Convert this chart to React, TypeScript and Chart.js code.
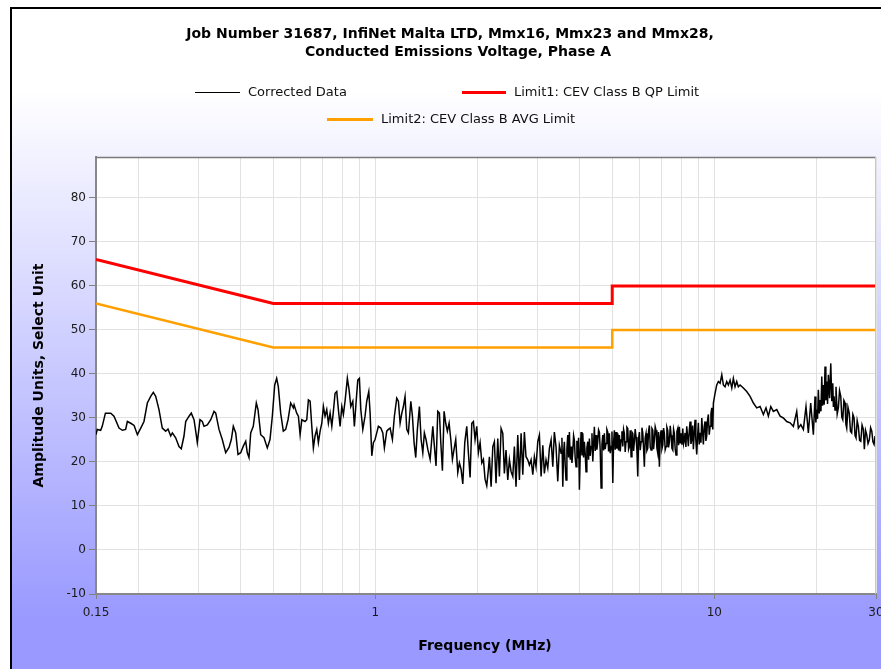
import { useEffect, useRef } from 'react';
import { Chart, registerables } from 'chart.js';

Chart.register(...registerables);

// ---------- data ----------
const titleLines = [
  'Job Number 31687, InfiNet Malta LTD, Mmx16, Mmx23 and Mmx28,',
  'Conducted Emissions Voltage, Phase A',
];
const xAxisTitle = 'Frequency (MHz)';
const yAxisTitle = 'Amplitude Units, Select Unit';

const seriesLabels = [
  'Corrected Data',
  'Limit1: CEV Class B QP Limit',
  'Limit2: CEV Class B AVG Limit',
];

const xGridValues = [0.15, 0.2, 0.3, 0.4, 0.5, 0.6, 0.7, 0.8, 0.9, 1, 2, 3, 4, 5, 6, 7, 8, 9, 10, 20, 30];
const xLabeledTicks = [0.15, 1, 10, 30];
const yTickValues = [-10, 0, 10, 20, 30, 40, 50, 60, 70, 80];

const limitFreq = [0.15, 0.5, 5, 5, 30];
const qpLimit = [66, 56, 56, 60, 60];
const avgLimit = [56, 46, 46, 50, 50];

// Corrected data, 0.15 - 2.16 MHz
const freqLow = [
  0.150, 0.1513, 0.1548, 0.1565, 0.1599, 0.1658, 0.1695, 0.1754, 0.1794, 0.1835,
  0.1856, 0.1899, 0.1943, 0.1987, 0.2033, 0.2078, 0.2126, 0.2175, 0.2214, 0.2250,
  0.2301, 0.2353, 0.2408, 0.2446, 0.2492, 0.2520, 0.2577, 0.2636, 0.2677, 0.2727,
  0.2759, 0.2822, 0.2865, 0.2919, 0.2953, 0.2985, 0.3040, 0.3088, 0.3124, 0.3195,
  0.3270, 0.3344, 0.3383, 0.3459, 0.3537, 0.3620, 0.3702, 0.3761, 0.3812, 0.3875,
  0.3936, 0.4008, 0.4080, 0.4147, 0.4192, 0.4241, 0.4290, 0.4366, 0.4457, 0.4509,
  0.4592, 0.4696, 0.4802, 0.4891, 0.4969, 0.5050, 0.5118, 0.5175, 0.5259, 0.5354,
  0.5441, 0.5528, 0.5629, 0.5731,
  0.5760, 0.5864, 0.5931, 0.6001, 0.6071, 0.6206, 0.6278, 0.6348, 0.6423, 0.6497,
  0.6567, 0.6642, 0.6719, 0.6794, 0.6874, 0.6954, 0.7029, 0.7109, 0.7191, 0.7272,
  0.7357, 0.7443, 0.7523, 0.7609, 0.7697, 0.7783, 0.7874, 0.7966, 0.8052, 0.8143,
  0.8272, 0.8370, 0.8468, 0.8583, 0.8676, 0.8774, 0.8879, 0.8977, 0.9064, 0.9187,
  0.9328, 0.9436, 0.9568, 0.9654, 0.9766, 0.9872, 0.9984, 1.0099, 1.0213, 1.0383,
  1.0524, 1.0637, 1.0810, 1.0931, 1.1060, 1.1233, 1.1385, 1.1570, 1.1699, 1.1837,
  1.1975, 1.2104, 1.2241, 1.2383, 1.2522, 1.2730, 1.2870, 1.3015, 1.3162, 1.3309,
  1.3494, 1.3652, 1.3809, 1.3957, 1.4115, 1.4284, 1.4512, 1.4780, 1.4938, 1.5107,
  1.5288, 1.5458, 1.5606, 1.5776, 1.5957, 1.6137, 1.6317, 1.6510, 1.6702, 1.6885,
  1.7078, 1.7271, 1.7512, 1.7707, 1.7913, 1.8120, 1.8364, 1.8613, 1.8821, 1.9041,
  1.9264, 1.9473, 1.9693, 1.9920, 2.0143, 2.0381, 2.0618, 2.0846, 2.1078, 2.1321,
  2.1560,
];
const ampLow = [
  26.2, 27.4, 27.2, 28.1, 31.1, 31.1, 30.4, 27.7, 27.2, 27.4,
  29.2, 28.8, 28.3, 26.2, 27.7, 29.2, 33.4, 34.9, 35.8, 34.9,
  31.9, 27.7, 27.0, 27.5, 25.9, 26.6, 25.5, 23.5, 23.0, 25.9,
  29.2, 30.4, 31.1, 29.6, 27.0, 24.4, 29.6, 29.2, 28.1, 28.4,
  29.6, 31.5, 31.1, 27.4, 25.1, 22.1, 23.3, 25.1, 28.1, 26.6,
  21.7, 22.1, 23.6, 24.7, 22.1, 21.0, 26.6, 28.1, 33.4, 31.9,
  26.2, 25.5, 23.2, 25.1, 30.4, 37.5, 39.0, 37.1, 31.1, 27.0,
  27.4, 29.6, 33.4, 32.3,
  33.0, 31.1, 30.4, 26.2, 29.6, 29.2, 29.6, 34.1, 33.8, 28.1,
  23.2, 25.9, 27.4, 24.4, 27.0, 28.8, 32.6, 30.4, 31.9, 28.8,
  31.1, 28.1, 31.5, 35.6, 36.0, 31.9, 28.1, 32.6, 30.8, 33.8,
  39.0, 36.4, 32.6, 33.8, 28.1, 33.4, 38.6, 39.0, 31.9, 27.4,
  30.4, 33.8, 36.0, 31.1, 21.4, 24.4, 25.1, 26.6, 28.1, 27.7,
  26.6, 23.2, 27.0, 27.4, 27.7, 25.1, 30.4, 34.5, 33.8, 28.8,
  31.1, 32.6, 34.9, 27.4, 26.6, 33.8, 30.4, 24.4, 21.0, 27.4,
  32.6, 25.1, 22.1, 26.6, 25.1, 22.9, 20.6, 28.1, 23.6, 19.1,
  31.5, 31.1, 24.4, 18.0, 31.5, 28.8, 27.0, 28.8, 25.1, 20.6,
  22.9, 25.1, 17.6, 19.8, 18.3, 15.0, 24.4, 28.1, 22.1, 16.5,
  28.8, 29.2, 25.1, 28.1, 22.1, 24.4, 19.8, 20.6, 16.1, 14.6,
  18.3,
];

// Corrected data, 2.17 - 4.45 MHz
const freqMid = [
  2.1709, 2.1963, 2.2216, 2.2455, 2.2708, 2.2979, 2.3235, 2.3506, 2.3777, 2.4033,
  2.4304, 2.4594, 2.4868, 2.5158, 2.5448, 2.5722, 2.6012, 2.6323, 2.6615, 2.6926,
  2.7237, 2.7529, 2.7840, 2.8173, 2.8486, 2.8819, 2.9152, 2.9465, 2.9797, 3.0153,
  3.0488, 3.0844, 3.1200, 3.1535, 3.1891, 3.2272, 3.2631, 3.3012, 3.3393, 3.3751,
  3.4132, 3.4540, 3.4924, 3.5332, 3.553, 3.5740, 3.593, 3.6123, 3.632, 3.6531,
  3.675, 3.6968, 3.717, 3.7378, 3.760, 3.7815, 3.803, 3.8252, 3.846, 3.8662,
  3.888, 3.9099, 3.933, 3.9566, 3.979, 4.0006, 4.024, 4.0473, 4.071, 4.0940,
  4.116, 4.1380, 4.161, 4.1847, 4.209, 4.2347, 4.258, 4.2817, 4.307, 4.3317,
  4.357, 4.3817, 4.405, 4.4288, 4.454,
];
const ampMid = [
  21.2, 14.4, 23.5, 24.6, 15.2, 25.3, 16.7, 27.6, 26.5, 17.4,
  22.7, 15.9, 20.5, 17.8, 16.7, 23.5, 14.4, 26.1, 15.9, 26.5,
  17.1, 26.8, 21.2, 20.5, 19.3, 20.5, 17.1, 21.2, 18.9, 24.6,
  26.1, 16.7, 23.8, 17.4, 20.5, 18.6, 23.1, 25.0, 18.9, 26.8,
  23.5, 15.6, 23.8, 22.0, 25.5, 14.4, 22.0, 24.6, 19.5, 15.9,
  23.0, 26.1, 21.0, 26.8, 20.5, 23.5, 19.8, 22.3, 26.0, 25.0,
  20.9, 18.9, 24.8, 20.8, 25.5, 13.7, 22.0, 26.8, 21.5, 26.5,
  21.0, 24.6, 22.0, 17.8, 23.2, 24.6, 20.5, 25.3, 21.4, 23.5,
  26.5, 20.1, 24.0, 28.0, 22.5,
];

// Corrected data, 4.48 - 9.94 MHz
const freqHigh = [
  4.4788, 4.505, 4.5323, 4.557, 4.5827, 4.609, 4.6362, 4.663, 4.6897, 4.715,
  4.7401, 4.767, 4.7936, 4.822, 4.8509, 4.878, 4.9048, 4.933, 4.9621, 4.991,
  5.0194, 5.046, 5.0732, 5.102, 5.1305, 5.161, 5.1918, 5.220, 5.2495, 5.280,
  5.3108, 5.341, 5.3721, 5.401, 5.4298, 5.460, 5.4911, 5.524, 5.5567, 5.588,
  5.6184, 5.651, 5.6841, 5.717, 5.7497, 5.781, 5.8114, 5.844, 5.8770, 5.912,
  5.9472, 5.980, 6.0133, 6.048, 6.0835, 6.119, 6.1537, 6.187, 6.2198, 6.255,
  6.2900, 6.328, 6.3652, 6.401, 6.4359, 6.473, 6.5111, 6.549, 6.5862, 6.622,
  6.6570, 6.695, 6.7321, 6.772, 6.8125, 6.850, 6.8882, 6.929, 6.9687, 7.009,
  7.0491, 7.087, 7.1248, 7.165, 7.2052, 7.248, 7.2913, 7.332, 7.3723, 7.415,
  7.4584, 7.501, 7.5445, 7.585, 7.6255, 7.669, 7.7116, 7.758, 7.8037, 7.847,
  7.8905, 7.936, 7.9826, 8.028, 8.0748, 8.118, 8.1615,
  8.1994, 8.247, 8.2942, 8.340, 8.3870, 8.436, 8.4857, 8.535, 8.5843, 8.631,
  8.6771, 8.726, 8.7757, 8.826, 8.8772, 8.927, 8.9765, 9.029, 9.0820, 9.135,
  9.1876, 9.237, 9.2869, 9.340, 9.3924, 9.447, 9.5010, 9.554, 9.6073, 9.664,
  9.7204, 9.777, 9.8334, 9.867, 9.9000, 9.9396,
];
const ampHigh = [
  26.1, 22.8, 24.6, 27.3, 26.8, 22.5, 14.1, 24.0, 26.1, 22.6,
  26.5, 22.9, 24.2, 27.4, 26.8, 22.4, 26.5, 22.0, 23.5, 26.9,
  15.2, 24.3, 27.2, 22.8, 26.8, 23.0, 26.5, 22.6, 26.1, 22.4,
  25.0, 27.0, 23.5, 27.4, 26.5, 22.3, 24.6, 27.9, 27.6, 22.9,
  23.5, 27.2, 21.2, 26.8, 26.5, 22.5, 24.6, 27.5, 25.7, 22.8,
  16.7, 25.2, 26.8, 22.7, 24.6, 27.8, 26.5, 23.0, 18.9, 25.5,
  26.5, 22.6, 23.1, 27.0, 28.3, 23.4, 22.7, 27.6, 27.2, 22.9,
  25.0, 28.0, 27.2, 23.2, 22.0, 26.8, 18.9, 25.7, 27.2, 23.0,
  23.8, 27.7, 26.5, 22.8, 23.5, 27.9, 27.2, 23.3, 24.6, 28.2,
  26.1, 23.1, 22.7, 27.4, 26.5, 22.9, 21.6, 26.9, 27.6, 23.8,
  28.0, 24.2, 26.5, 23.9, 27.6, 24.1, 25.0,
  26.6, 23.4, 28.1, 25.9, 23.6, 27.0, 29.2, 24.1, 25.1, 28.3,
  22.9, 26.4, 29.6, 24.8, 21.7, 25.6, 28.9, 24.0, 26.6, 24.4,
  30.0, 26.9, 24.0, 28.0, 29.2, 24.8, 25.9, 29.5, 30.8, 26.2,
  28.1, 31.0, 32.3, 28.5, 27.4, 33.4,
];

// Corrected data, 10 - 30 MHz
const freqTop = [
  10.053, 10.169, 10.283, 10.404, 10.524, 10.638, 10.759, 10.883, 11.005, 11.134,
  11.264, 11.385, 11.515, 11.648, 11.778, 11.917, 12.186, 12.467, 12.755, 13.043,
  13.343, 13.651, 13.959, 14.211, 14.441, 14.681, 14.940, 15.285, 15.638, 15.990,
  16.359, 16.737, 17.114, 17.509, 17.705, 17.999, 18.317, 18.647, 18.949, 19.253,
  19.604, 19.827, 19.94, 20.056, 20.17, 20.280, 20.40, 20.519, 20.64, 20.757,
  20.87, 20.982, 21.10, 21.220, 21.34, 21.465, 21.59, 21.706, 21.89, 22.066,
  22.22, 22.366, 22.46, 22.562, 22.71, 22.862, 23.05, 23.232, 23.42, 23.614,
  23.78, 23.939, 24.12, 24.308, 24.45, 24.589, 24.80, 25.018, 25.22, 25.430,
  25.64, 25.844, 26.02, 26.188, 26.40, 26.611, 26.83, 27.055, 27.29, 27.532,
  27.716, 27.94, 28.167, 28.42, 28.679, 28.92, 29.153, 29.38, 29.605, 29.800,
];
const ampTop = [
  35.6, 37.5, 38.3, 37.9, 39.8, 37.5, 37.1, 38.3, 37.5, 38.6,
  36.8, 39.0, 37.1, 38.3, 37.1, 37.5, 36.8, 36.0, 34.9, 33.4,
  32.3, 32.6, 30.8, 32.3, 30.4, 32.6, 31.5, 31.9, 30.4, 30.0,
  29.2, 28.9, 28.1, 31.5, 27.7, 28.5, 27.4, 32.6, 26.6, 33.4,
  26.2, 34.9, 29.0, 31.9, 29.8, 36.4, 31.0, 34.1, 31.5, 39.4,
  32.8, 37.5, 33.0, 41.7, 34.0, 38.3, 33.2, 39.8, 34.5, 42.4,
  33.8, 37.9, 32.5, 34.9, 31.8, 37.1, 30.9, 32.3, 36.2, 34.9,
  30.2, 29.6, 34.0, 33.4, 28.6, 27.7, 32.4, 31.1, 27.0, 26.6,
  30.8, 30.0, 26.0, 25.5, 29.4, 28.1, 24.9, 24.7, 28.4, 27.4,
  22.9, 27.2, 26.2, 24.2, 25.1, 27.8, 27.0, 24.6, 24.0, 25.9,
];

const corrFreq = [...freqLow, ...freqMid, ...freqHigh, ...freqTop];
const corrAmp = [...ampLow, ...ampMid, ...ampHigh, ...ampTop];

const seriesColors = ['#000000', '#ff0000', '#ffa000'];
const seriesWidths = [1.5, 3, 2.5];

// ---------- helpers ----------
const FONT = '"DejaVu Sans", Verdana, sans-serif';

function toPoints(xs: number[], ys: number[]) {
  const n = Math.min(xs.length, ys.length);
  const out: { x: number; y: number }[] = [];
  for (let i = 0; i < n; i++) out.push({ x: xs[i], y: ys[i] });
  return out;
}

const decorPlugin = {
  id: 'decor',
  beforeDraw(chart: any) {
    const { ctx, width, height, chartArea } = chart;
    ctx.save();
    ctx.fillStyle = '#ffffff';
    ctx.fillRect(0, 0, width, height);
    const g = ctx.createLinearGradient(0, 90, 0, 620);
    g.addColorStop(0, '#ffffff');
    g.addColorStop(1, '#9999ff');
    ctx.fillStyle = g;
    ctx.fillRect(10, 7, width - 10, height - 7);
    ctx.fillStyle = '#000000';
    ctx.fillRect(10, 7, 2, height - 7);
    ctx.fillRect(10, 7, width - 10, 2);
    ctx.fillStyle = '#ffffff';
    ctx.fillRect(chartArea.left, chartArea.top, chartArea.right - chartArea.left, chartArea.bottom - chartArea.top);
    ctx.restore();
  },
  afterDraw(chart: any) {
    const { ctx, chartArea } = chart;
    ctx.save();
    ctx.strokeStyle = '#7a7a7a';
    ctx.lineWidth = 1.5;
    ctx.beginPath();
    ctx.moveTo(chartArea.left, chartArea.top + 0.5);
    ctx.lineTo(chartArea.right, chartArea.top + 0.5);
    ctx.stroke();
    ctx.strokeStyle = '#c8c8c8';
    ctx.lineWidth = 1;
    ctx.beginPath();
    ctx.moveTo(chartArea.right - 0.5, chartArea.top);
    ctx.lineTo(chartArea.right - 0.5, chartArea.bottom);
    ctx.stroke();

    // title
    ctx.fillStyle = '#000000';
    ctx.font = `bold 14px ${FONT}`;
    ctx.textAlign = 'center';
    ctx.textBaseline = 'middle';
    ctx.fillText(titleLines[0], 450, 34);
    ctx.fillText(titleLines[1], 458, 52);

    // legend
    const pos = [
      { x: 195, y: 92, len: 45 },
      { x: 462, y: 92, len: 44 },
      { x: 327, y: 119, len: 46 },
    ];
    ctx.font = `13px ${FONT}`;
    ctx.textAlign = 'left';
    chart.data.datasets.forEach((ds: any, i: number) => {
      const p = pos[i];
      ctx.strokeStyle = ds.borderColor;
      ctx.lineWidth = i === 0 ? 1 : 3;
      ctx.beginPath();
      ctx.moveTo(p.x, p.y + 0.5);
      ctx.lineTo(p.x + p.len, p.y + 0.5);
      ctx.stroke();
      ctx.fillStyle = '#111111';
      ctx.fillText(ds.label, p.x + p.len + 8, p.y + 1);
    });

    // axis titles
    ctx.fillStyle = '#000000';
    ctx.font = `bold 14px ${FONT}`;
    ctx.textAlign = 'center';
    ctx.fillText(xAxisTitle, (chartArea.left + chartArea.right) / 2 - 1, 646);
    ctx.translate(39, (chartArea.top + chartArea.bottom) / 2);
    ctx.rotate(-Math.PI / 2);
    ctx.fillText(yAxisTitle, 0, 0);
    ctx.restore();
  },
};

export default function App() {
  const ref = useRef<HTMLCanvasElement>(null);

  useEffect(() => {
    if (!ref.current) return;
    const chart = new Chart(ref.current, {
      type: 'scatter',
      data: {
        datasets: [
          {
            label: seriesLabels[0],
            data: toPoints(corrFreq, corrAmp),
            showLine: true,
            borderColor: seriesColors[0],
            borderWidth: seriesWidths[0],
            pointRadius: 0,
            tension: 0,
            order: 3,
          },
          {
            label: seriesLabels[1],
            data: toPoints(limitFreq, qpLimit),
            showLine: true,
            borderColor: seriesColors[1],
            borderWidth: seriesWidths[1],
            pointRadius: 0,
            tension: 0,
            order: 2,
          },
          {
            label: seriesLabels[2],
            data: toPoints(limitFreq, avgLimit),
            showLine: true,
            borderColor: seriesColors[2],
            borderWidth: seriesWidths[2],
            pointRadius: 0,
            tension: 0,
            order: 1,
          },
        ],
      },
      options: {
        animation: false,
        responsive: false,
        devicePixelRatio: 1,
        layout: { padding: { left: 10, top: 157, right: 5, bottom: 30 } },
        plugins: {
          legend: { display: false },
          title: { display: false },
          tooltip: { enabled: false },
        },
        scales: {
          x: {
            type: 'logarithmic',
            min: 0.15,
            max: 30,
            afterBuildTicks: (s: any) => {
              s.ticks = xGridValues.map((v) => ({ value: v }));
            },
            afterFit: (s: any) => {
              s.height = 45;
              s.paddingLeft = 0;
              s.paddingRight = 0;
            },
            grid: {
              color: '#e2e2e2',
              lineWidth: 1,
              tickLength: 5,
              tickColor: (c: any) =>
                c.tick && xLabeledTicks.includes(c.tick.value) ? '#808080' : 'rgba(0,0,0,0)',
            },
            border: { color: '#888888', width: 2 },
            ticks: {
              autoSkip: false,
              maxRotation: 0,
              padding: 7,
              color: '#1a1a1a',
              font: { family: FONT, size: 12 },
              callback: (v: any) => (xLabeledTicks.includes(Number(v)) ? String(v) : ''),
            },
          },
          y: {
            type: 'linear',
            min: -10,
            max: 89.3,
            afterBuildTicks: (s: any) => {
              s.ticks = yTickValues.map((v) => ({ value: v }));
            },
            afterFit: (s: any) => {
              s.width = 86;
              s.paddingTop = 0;
              s.paddingBottom = 0;
            },
            grid: { color: '#e2e2e2', lineWidth: 1, tickLength: 7, tickColor: '#808080' },
            border: { color: '#888888', width: 2 },
            ticks: {
              padding: 3,
              color: '#1a1a1a',
              font: { family: FONT, size: 12 },
            },
          },
        },
      },
      plugins: [decorPlugin],
    } as any);
    return () => chart.destroy();
  }, []);

  return (
    <div style={{ position: 'fixed', left: 0, top: 0, width: 881, height: 669 }}>
      <canvas ref={ref} width={881} height={669} style={{ display: 'block', width: 881, height: 669 }} />
    </div>
  );
}
